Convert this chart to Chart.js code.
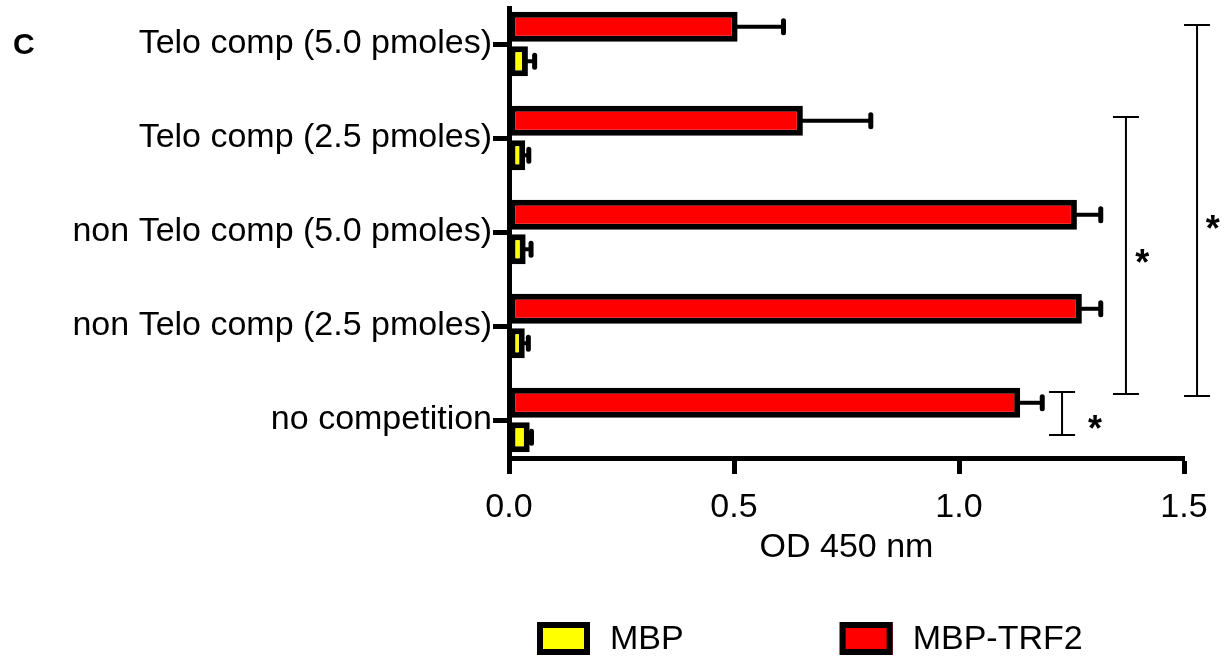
<!DOCTYPE html>
<html>
<head>
<meta charset="utf-8">
<script src="https://cdn.jsdelivr.net/npm/chart.js@4.4.1/dist/chart.umd.min.js"></script>
<style>
  html, body { margin: 0; padding: 0; background: #fff; }
  #wrap { position: relative; width: 1225px; height: 666px; }
</style>
</head>
<body>
<div id="wrap"><canvas id="odChart" width="1225" height="666"></canvas></div>
<script>
// Categories, top to bottom
const categories = [
    'Telo comp (5.0 pmoles)',
    'Telo comp (2.5 pmoles)',
    'non Telo comp (5.0 pmoles)',
    'non Telo comp (2.5 pmoles)',
    'no competition'
];

// OD 450 nm values and error bars
const trf2Values = [0.508, 0.653, 1.262, 1.273, 1.136];
const trf2Errors = [0.102, 0.151, 0.053, 0.042, 0.049];
const mbpValues = [0.042, 0.036, 0.037, 0.035, 0.046];
const mbpErrors = [0.015, 0.008, 0.012, 0.008, 0.004];

const xTicks = [0, 0.5, 1.0, 1.5];

// Significance brackets (x in OD units, from/to/labelY in category units)
const brackets = [
    { x: 1.229, from: 3.702, to: 4.160, labelX: 1.302, labelY: 4.021, text: '*' },
    { x: 1.371, from: 0.777, to: 3.723, labelX: 1.407, labelY: 2.255, text: '*' },
    { x: 1.529, from: -0.202, to: 3.745, labelX: 1.564, labelY: 1.894, text: '*' }
];

const FONT = "'Liberation Sans', Arial, sans-serif";
Chart.defaults.font.family = FONT;
Chart.defaults.color = '#000';

// Error bars: line from the bar end to value + error, with a cap
const errorBarPlugin = {
    id: 'errorBars',
    afterDatasetsDraw(chart) {
        const xs = chart.scales.x;
        const c = chart.ctx;
        chart.data.datasets.forEach((ds, d) => {
            chart.getDatasetMeta(d).data.forEach((bar, i) => {
                const end = xs.getPixelForValue(ds.data[i].x + ds.errors[i]);
                c.save();
                c.strokeStyle = '#000';
                c.lineWidth = 4;
                c.beginPath();
                c.moveTo(bar.x - 3, bar.y);
                c.lineTo(end, bar.y);
                c.stroke();
                c.lineWidth = 5;
                c.lineCap = 'round';
                c.beginPath();
                c.moveTo(end, bar.y - 6);
                c.lineTo(end, bar.y + 6);
                c.stroke();
                c.restore();
            });
        });
    }
};

// Significance brackets with asterisks
const bracketPlugin = {
    id: 'sigBrackets',
    afterDraw(chart) {
        const xs = chart.scales.x, ys = chart.scales.y;
        const c = chart.ctx;
        c.save();
        c.strokeStyle = '#000';
        c.fillStyle = '#000';
        c.lineWidth = 2;
        brackets.forEach(b => {
            const px = xs.getPixelForValue(b.x);
            const top = ys.getPixelForValue(b.from);
            const bot = ys.getPixelForValue(b.to);
            c.beginPath();
            c.moveTo(px, top); c.lineTo(px, bot);
            c.moveTo(px - 13, top); c.lineTo(px + 13, top);
            c.moveTo(px - 13, bot); c.lineTo(px + 13, bot);
            c.stroke();
            c.font = 'bold 36px ' + FONT;
            c.textAlign = 'center';
            c.textBaseline = 'middle';
            c.fillText(b.text, xs.getPixelForValue(b.labelX), ys.getPixelForValue(b.labelY) + 9);
        });
        c.restore();
    }
};

// Legend drawn under the axis title, MBP first
const legendPlugin = {
    id: 'bottomLegend',
    afterDraw(chart) {
        const c = chart.ctx;
        const items = chart.data.datasets.slice().reverse();
        let x = 537;
        const top = 622;
        c.save();
        c.font = '34px ' + FONT;
        c.textAlign = 'left';
        c.textBaseline = 'middle';
        items.forEach(ds => {
            c.fillStyle = ds.backgroundColor;
            c.fillRect(x, top, 53, 33);
            c.lineWidth = 6;
            c.strokeStyle = '#000';
            c.strokeRect(x + 3, top + 3, 47, 27);
            c.fillStyle = '#000';
            c.fillText(ds.label, x + 73, top + 18);
            x += 73 + c.measureText(ds.label).width + 156;
        });
        // panel letter
        c.font = 'bold 30px ' + FONT;
        c.textBaseline = 'alphabetic';
        c.fillText('C', 13, 54);
        c.restore();
    }
};

const ctx = document.getElementById('odChart').getContext('2d');
new Chart(ctx, {
    type: 'bar',
    data: {
        datasets: [
            {
                label: 'MBP-TRF2',
                data: trf2Values.map((v, i) => ({ x: v, y: i })),
                errors: trf2Errors,
                backgroundColor: '#FF0000',
                borderColor: '#000',
                borderWidth: 6,
                borderSkipped: false
            },
            {
                label: 'MBP',
                data: mbpValues.map((v, i) => ({ x: v, y: i })),
                errors: mbpErrors,
                backgroundColor: '#FFFF00',
                borderColor: '#000',
                borderWidth: 6,
                borderSkipped: false
            }
        ]
    },
    options: {
        indexAxis: 'y',
        responsive: false,
        animation: false,
        categoryPercentage: 0.734,
        barPercentage: 0.87,
        layout: { padding: { top: 8, right: 41, bottom: 98, left: 0 } },
        plugins: { legend: { display: false }, tooltip: { enabled: false } },
        scales: {
            x: {
                type: 'linear',
                min: 0,
                max: 1.5,
                afterFit: s => { s.height = 110; },
                afterBuildTicks: s => { s.ticks = xTicks.map(v => ({ value: v })); },
                ticks: { font: { size: 34 }, padding: 13, callback: v => v.toFixed(1) },
                grid: { drawOnChartArea: false, drawTicks: true, tickLength: 16, tickWidth: 5, tickColor: '#000' },
                border: { color: '#000', width: 5 },
                title: { display: true, text: 'OD 450 nm', font: { size: 34 }, padding: 0 }
            },
            y: {
                type: 'linear',
                reverse: true,
                offset: false,
                min: -0.383,
                max: 4.404,
                afterFit: s => { s.width = 509; s.paddingTop = 0; s.paddingBottom = 0; },
                afterBuildTicks: s => { s.ticks = categories.map((c, i) => ({ value: i })); },
                ticks: { font: { size: 34 }, padding: 1, callback: v => categories[v] },
                grid: { offset: false, drawOnChartArea: false, drawTicks: true, tickLength: 16, tickWidth: 5, tickColor: '#000' },
                border: { color: '#000', width: 5 }
            }
        }
    },
    plugins: [errorBarPlugin, bracketPlugin, legendPlugin]
});
</script>
</body>
</html>
